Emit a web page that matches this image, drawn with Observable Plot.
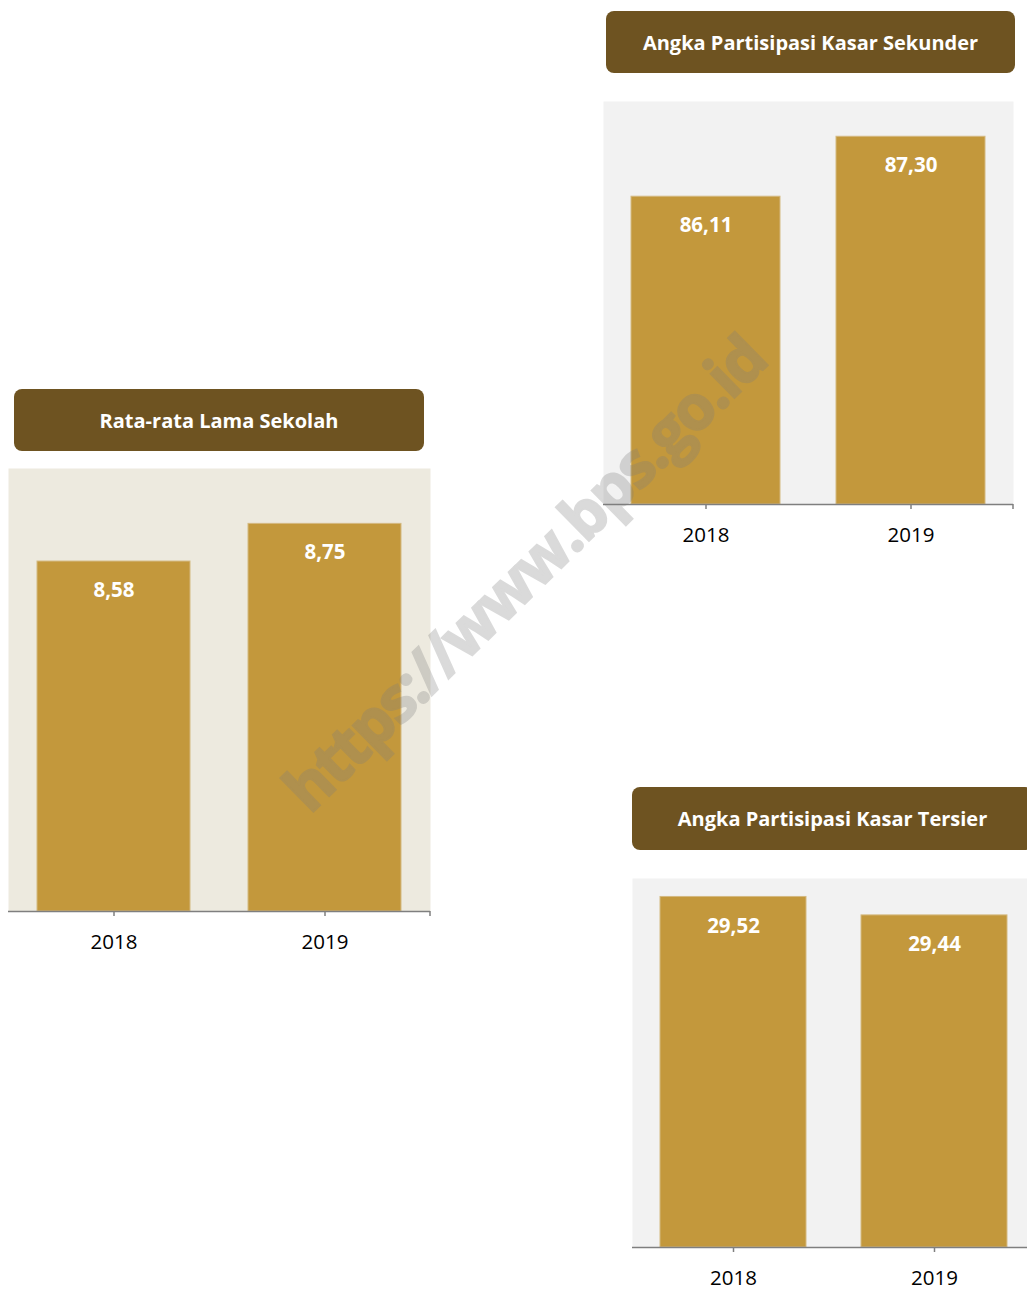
<!DOCTYPE html>
<html>
<head>
<meta charset="utf-8">
<script src="https://cdn.jsdelivr.net/npm/d3@7"></script>
<script src="https://cdn.jsdelivr.net/npm/@observablehq/plot@0.6"></script>
<style>
  html, body { margin: 0; padding: 0; background: #ffffff; }
  body { width: 1027px; height: 1290px; position: relative; overflow: hidden; font-family: "Open Sans", sans-serif; }
  .title { position: absolute; background: #6e5321; border-radius: 8px; color: #ffffff; font-weight: 700;
           font-size: 20px; display: flex; align-items: center; justify-content: center; white-space: nowrap; }
  .panel { position: absolute; }
  .panel svg { overflow: visible; max-width: none !important; display: block; }
  .watermark { position: absolute; left: 523px; top: 572px; transform: translate(-50%, -50%) rotate(-44.5deg);
               font-weight: 700; font-size: 62px; letter-spacing: -2px; color: #7c7c7c;
               -webkit-text-stroke: 2px #7c7c7c; opacity: 0.28; white-space: nowrap;
               pointer-events: none; z-index: 10; font-family: "Open Sans", sans-serif; }
</style>
</head>
<body>
<script>
// ---- data ----
const years = ["2018", "2019"];
const rlsValues = [8.58, 8.75];            // Rata-rata Lama Sekolah
const apkSekunderValues = [86.11, 87.30];  // Angka Partisipasi Kasar Sekunder
const apkTersierValues = [29.52, 29.44];   // Angka Partisipasi Kasar Tersier
const panelTitles = ["Rata-rata Lama Sekolah", "Angka Partisipasi Kasar Sekunder", "Angka Partisipasi Kasar Tersier"];
const watermarkText = "https://www.bps.go.id";

const barColor = "#c3983c";
const fmt = v => d3.format(".2f")(v).replace(".", ",");

function addTitle(text, left, top, width, height) {
  const d = document.createElement("div");
  d.className = "title";
  Object.assign(d.style, {left: left + "px", top: top + "px", width: width + "px", height: height + "px"});
  d.textContent = text;
  document.body.appendChild(d);
}

function addPanel(values, yDomain, bg, left, top, frameW, frameH) {
  const data = years.map((year, i) => ({year, value: values[i]}));
  const endTick = (index, scales, vals, dims) => {
    const x = dims.width - dims.marginRight;
    const y = dims.height - dims.marginBottom;
    const line = d3.create("svg:line")
      .attr("x1", x).attr("x2", x).attr("y1", y).attr("y2", y + 5)
      .attr("stroke", "#7f7f7f").attr("stroke-width", 1.5);
    return line.node();
  };
  const W = frameW + 1, H = frameH + 50;
  const chart = Plot.plot({
    width: W,
    height: H,
    marginTop: 0,
    marginBottom: 50,
    marginLeft: 0,
    marginRight: 1,
    style: {fontFamily: "Open Sans, sans-serif", fontSize: "20px", background: "transparent", color: "#000"},
    x: {domain: years, paddingInner: 0.275, paddingOuter: 0.1375, label: null},
    y: {domain: yDomain, axis: null},
    marks: [
      Plot.frame({fill: bg, stroke: "none"}),
      Plot.barY(data, {x: "year", y1: yDomain[0], y2: "value", fill: barColor, stroke: "#d4b980", strokeWidth: 1}),
      Plot.text(data, {x: "year", y: "value", text: d => fmt(d.value), dy: 29, fill: "#ffffff",
                       fontWeight: "bold", fontSize: 20.5}),
      Plot.ruleY([yDomain[0]], {stroke: "#7f7f7f", strokeWidth: 1.5}),
      Plot.axisX({tickSize: 5, tickPadding: 18, stroke: "#7f7f7f", strokeWidth: 1.5, fill: "#000", fontSize: 20.5, label: null}),
      endTick
    ]
  });
  const wrap = document.createElement("div");
  wrap.className = "panel";
  wrap.style.left = left + "px";
  wrap.style.top = top + "px";
  wrap.style.width = W + "px";
  wrap.style.height = H + "px";
  chart.style.maxWidth = "none";
  chart.style.width = W + "px";
  chart.style.height = H + "px";
  wrap.appendChild(chart);
  document.body.appendChild(wrap);
}

addTitle(panelTitles[0], 14, 389, 410, 62);
addPanel(rlsValues, [7, 9], "#edeadf", 8, 468, 422, 443);

addTitle(panelTitles[1], 606, 11, 409, 62);
addPanel(apkSekunderValues, [80, 88], "#f2f2f2", 603, 101, 410, 403);

addTitle(panelTitles[2], 632, 787, 401, 63);
addPanel(apkTersierValues, [28, 29.6], "#f2f2f2", 632, 878, 402, 369);

const wm = document.createElement("div");
wm.className = "watermark";
wm.textContent = watermarkText;
document.body.appendChild(wm);
</script>
</body>
</html>
